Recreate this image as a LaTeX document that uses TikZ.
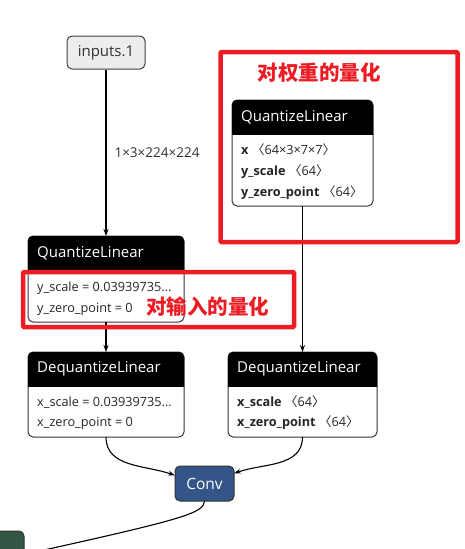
\documentclass[tikz,border=0pt]{standalone}
\usepackage{fontspec}
\setmainfont{Open Sans}
\newfontfamily\cjk{Noto Sans CJK SC}
\usetikzlibrary{positioning, arrows.meta}

\definecolor{markred}{HTML}{EC1C24}
\definecolor{convblue}{HTML}{335588}
\definecolor{normgreen}{HTML}{335544}

\tikzset{
    opbox/.style={draw=black!80, fill=white, line width=1pt, rounded corners=5pt, outer sep=0pt, inner sep=0pt},
    inputbox/.style={draw=black!75, fill=black!7, line width=1pt, rounded corners=5pt, minimum width=78pt, minimum height=33pt, font=\fontsize{15}{17}\selectfont, text=black!80},
    optitle/.style={anchor=west, inner sep=0pt, text=white, font=\fontsize{15}{17}\selectfont},
    attr/.style={anchor=west, inner sep=0pt, text=black!85, text height=9pt, text depth=3pt, font=\fontsize{12.7}{15}\selectfont},
    redmark/.style={draw=markred, line width=4.5pt, rounded corners=1pt},
    redtext/.style={text=markred, font=\cjk\bfseries\fontsize{20.5}{22}\selectfont},
    edge/.style={-{Stealth[length=7pt, width=5pt]}, line width=1.1pt}
}

\newcommand{\lbr}{{\cjk 〈}}
\newcommand{\rbr}{{\cjk 〉}}

\begin{document}
\begin{tikzpicture}[x=1pt, y=1pt]
    \useasboundingbox (0,0) rectangle (464,-549);

    % graph nodes
    \node[inputbox] (inp) at (106,-52.5) {inputs.1};
    \node[opbox, minimum width=156pt, minimum height=86pt] (qinp) at (106,-279) {};
    \node[opbox, minimum width=156pt, minimum height=85pt] (dqinp) at (106,-394.5) {};
    \node[opbox, minimum width=141pt, minimum height=106pt] (qw) at (302.5,-153) {};
    \node[opbox, minimum width=149pt, minimum height=85pt] (dqw) at (302.5,-394.5) {};
    \node[opbox, fill=convblue, minimum width=59pt, minimum height=35pt, text=white, font=\fontsize{15.5}{17}\selectfont] (conv) at (204.5,-483.5) {Conv};
    \node[opbox, fill=normgreen, minimum width=36pt, minimum height=34pt] (norm) at (6,-548) {};

    % black title bars
    \foreach \b/\t in {qinp/QuantizeLinear, dqinp/DequantizeLinear, qw/QuantizeLinear, dqw/DequantizeLinear} {
        \begin{scope}
            \clip ([xshift=-2pt, yshift=2pt]\b.north west) rectangle ([xshift=2pt, yshift=-34pt]\b.north east);
            \fill[black, rounded corners=5pt] (\b.north west) rectangle (\b.south east);
        \end{scope}
        \node[optitle] (\b-title) at ([xshift=9pt, yshift=-17pt]\b.north west) {\t};
    }

    % attributes
    \node[attr] (qinp-a) at ([xshift=9pt, yshift=-52pt]qinp.north west) {y\_scale = 0.03939735...};
    \node[attr] (qinp-b) at ([xshift=9pt, yshift=-73pt]qinp.north west) {y\_zero\_point = 0};
    \node[attr] (dqinp-a) at ([xshift=9pt, yshift=-51pt]dqinp.north west) {x\_scale = 0.03939735...};
    \node[attr] (dqinp-b) at ([xshift=9pt, yshift=-71pt]dqinp.north west) {x\_zero\_point = 0};
    \node[attr] (qw-a) at ([xshift=9pt, yshift=-51pt]qw.north west) {\textbf{x} \lbr 64×3×7×7\rbr};
    \node[attr] (qw-b) at ([xshift=9pt, yshift=-72pt]qw.north west) {\textbf{y\_scale} \lbr 64\rbr};
    \node[attr] (qw-c) at ([xshift=9pt, yshift=-93pt]qw.north west) {\textbf{y\_zero\_point} \lbr 64\rbr};
    \node[attr] (dqw-a) at ([xshift=9pt, yshift=-51pt]dqw.north west) {\textbf{x\_scale} \lbr 64\rbr};
    \node[attr] (dqw-b) at ([xshift=9pt, yshift=-71pt]dqw.north west) {\textbf{x\_zero\_point} \lbr 64\rbr};

    % connectors
    \draw[edge] (inp.south) -- (qinp.north) node[pos=0.5, right=8pt, inner sep=0pt, text=black!80, font=\fontsize{13.5}{15}\selectfont] (shape) {1×3×224×224};
    \draw[edge] (qinp.south) -- (dqinp.north);
    \draw[edge] (qw.south) -- (dqw.north);
    \draw[edge] (dqinp.south) to[out=-90, in=160] ([yshift=8pt]conv.west);
    \draw[edge] (dqw.south) to[out=-90, in=20] ([yshift=10pt]conv.east);
    \coordinate (next) at (10,-557.5);
    \draw[edge] (conv.south) .. controls (203,-513) and (190,-518) .. (next);

    % red marks
    \draw[redmark] (220.5,-52) rectangle (457.5,-242);
    \node[redtext] (wlabel) at (319,-73) {对权重的量化};
    \draw[redmark] (23,-272) rectangle (294,-327);
    \node[redtext] (ilabel) at (207.5,-307) {对输入的量化};
\end{tikzpicture}
\end{document}
